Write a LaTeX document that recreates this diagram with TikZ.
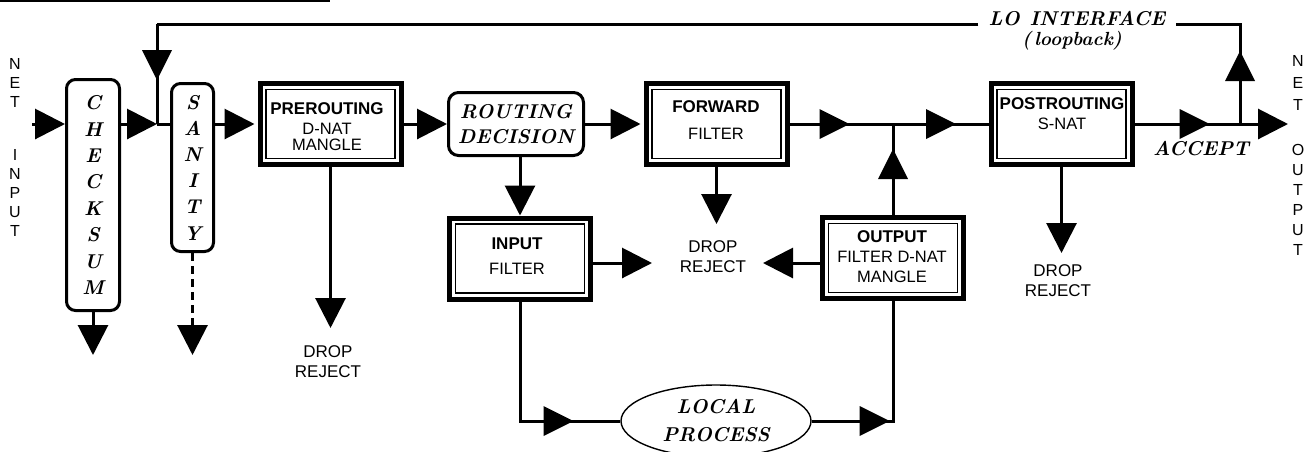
\documentclass[tikz,border=0pt]{standalone}
\usepackage{fontspec}
\newfontfamily\labelsans{Liberation Sans}
\usetikzlibrary{arrows.meta,decorations.markings,shapes.geometric}

% bold heading line inside a chain box
\newcommand\hdrtext[1]{{\fontsize{17}{20}\selectfont\bfseries #1}}

\tikzset{
  flow/.style={line width=3pt},
  headend/.style={-{Triangle[length=30pt,width=30pt]}},
  headmid/.style={postaction={decorate,decoration={markings,
      mark=at position #1 with {\fill (-30,-15) -- (0,0) -- (-30,15) -- cycle;}}}},
  chain/.style={draw, line width=5pt, inner sep=0pt, minimum width=141pt, minimum height=81pt,
      path picture={\draw[line width=1.8pt]
        ([shift={(6,6)}]path picture bounding box.north west) rectangle
        ([shift={(-6,-6)}]path picture bounding box.south east);}},
  pill/.style={draw, line width=3pt, rounded corners=9pt, inner sep=0pt, align=center},
  sans/.style={font=\labelsans\fontsize{16.5}{20}\selectfont, align=center, inner sep=0pt},
  droplbl/.style={font=\labelsans\fontsize{17}{20}\selectfont, align=center, inner sep=0pt},
  spine/.style={font=\labelsans\fontsize{16}{19}\selectfont, align=center, inner sep=0pt},
  serif/.style={font=\fontsize{20}{26.4}\selectfont\bfseries\itshape, align=center, inner sep=0pt},
}

\begin{document}
\begin{tikzpicture}[x=1pt,y=-1pt]
\useasboundingbox (0,0) rectangle (1304,451);

% rule along the top edge
\draw[line width=2.5pt] (0,1) -- (330,1);

% side captions
\node[spine, anchor=north] (netinT) at (15,58) {N\\E\\T\\[34pt]I\\N\\P\\U\\T};
\node[spine, anchor=north, font=\labelsans\fontsize{16}{20}\selectfont] (netoutT) at (1298,55)
  {N\\[2pt]E\\[2pt]T\\[25pt]O\\U\\T\\P\\U\\T};

% processing stages
\node[pill, serif, minimum width=53pt, minimum height=231pt] (ck) at (93,195) {C\\H\\E\\C\\K\\S\\U\\M};
\node[pill, serif, font=\fontsize{20}{26.2}\selectfont\bfseries\itshape, minimum width=42pt, minimum height=168pt] (san) at (192.5,167.5) {S\\A\\N\\I\\T\\Y};
\node[chain] (pre) at (330.5,124) {};
\node[pill, serif, font=\fontsize{20}{25}\selectfont\bfseries\itshape, rounded corners=10pt, minimum width=135pt, minimum height=63pt] (rd) at (516,124) {ROUTING\\DECISION};
\node[chain] (fw) at (716.5,124) {};
\node[chain] (inb) at (520,258.5) {};
\node[chain] (outb) at (893,258) {};
\node[chain] (post) at (1061.5,124) {};
\node[ellipse, draw, line width=1.4pt, inner sep=0pt, minimum width=190pt, minimum height=72pt,
      serif, font=\fontsize{20}{28}\selectfont\bfseries\itshape] (lp) at (716,421) {LOCAL\\PROCESS};

% box captions
\node[sans, anchor=north] (preT) at (327,102) {\hdrtext{PREROUTING}\\[0.8pt]D-NAT\\[-4pt]MANGLE};
\node[sans, anchor=north] (fwT) at (716,100) {\hdrtext{FORWARD}\\[7.8pt]FILTER};
\node[sans, anchor=north] (inT) at (517,238) {\hdrtext{INPUT}\\[4.8pt]FILTER};
\node[sans, anchor=north] (outT) at (892,230) {\hdrtext{OUTPUT}\\[0.8pt]FILTER D-NAT\\MANGLE};
\node[sans, anchor=north] (postT) at (1062,97) {\hdrtext{POSTROUTING}\\[0.8pt]S-NAT};

% verdict captions
\node[droplbl, anchor=north] (preDT) at (328,345) {DROP\\REJECT};
\node[droplbl, anchor=north] (fwDT) at (713,240) {DROP\\REJECT};
\node[droplbl, anchor=north] (postDT) at (1058,264) {DROP\\REJECT};

% loopback captions
\node[serif, anchor=base, inner xsep=10pt] (lo) at (1077,25) {LO\hspace{10pt}INTERFACE};
\node[serif, font=\fontsize{19}{22}\selectfont\bfseries\itshape, anchor=base] (loop) at (1072,45) {(\,loopback)};
\node[serif, anchor=base] (acc) at (1201,155) {ACCEPT};

% junctions and free ends
\coordinate (jA) at (157,124);
\coordinate (tA) at (157,24);
\coordinate (jB) at (893,124);
\coordinate (jC) at (1240,124);
\coordinate (tC) at (1240,24);
\coordinate (netin) at (32,124);
\coordinate (netout) at (1288,124);
\coordinate (ckD) at (93,355);
\coordinate (sanD) at (192.5,355);
\coordinate (preD) at (330.5,328);
\coordinate (fwD) at (716.5,224);
\coordinate (postD) at (1061.5,253);
\coordinate (inD) at (652,263);
\coordinate (outD) at (763,263);

% main path
\draw[flow, headend] (netin) -- (netin -| ck.west);
\draw[flow, headend] (ck.east |- jA) -- (jA);
\draw[flow] (jA) -- (jA -| san.west);
\draw[flow, headend, shorten >=3pt] (san.east |- jA) -- (pre.west);
\draw[flow, headend] (pre.east) -- (rd.west);
\draw[flow, headend, shorten >=3pt] (rd.east) -- (fw.west);
\draw[flow, headmid=60pt] (fw.east) -- (jB);
\draw[flow, headmid=63pt] (jB) -- (post.west);
\draw[flow, headmid=75pt] (post.east) -- (jC);
\draw[flow, headend] (jC) -- (netout);

% loopback
\draw[flow, headmid=73pt] (jC) -- (tC) -- (tC -| lo.east);
\draw[flow] (lo.west |- tA) -- (tA);
\draw[flow, headmid=56pt] (tA) -- (jA);

% local delivery and local output
\draw[flow, headend] (inb.north |- rd.south) -- (inb.north);
\draw[flow, headmid=173pt] (inb.south) -- (inb.south |- lp.west) -- (lp.west);
\draw[flow, headmid=78pt] (lp.east) -- (lp.east -| outb.south) -- (outb.south);
\draw[flow, headmid=66pt] (outb.north) -- (jB);

% drops
\draw[flow, headend] (ck.south) -- (ckD);
\draw[flow, headend, dash pattern=on 8pt off 5pt] (san.south) -- (sanD);
\draw[flow, headend] (pre.south) -- (preD);
\draw[flow, headend] (fw.south) -- (fwD);
\draw[flow, headend] (post.south) -- (postD);
\draw[flow, headend] (inb.east |- inD) -- (inD);
\draw[flow, headend] (outb.west |- outD) -- (outD);
\end{tikzpicture}
\end{document}
